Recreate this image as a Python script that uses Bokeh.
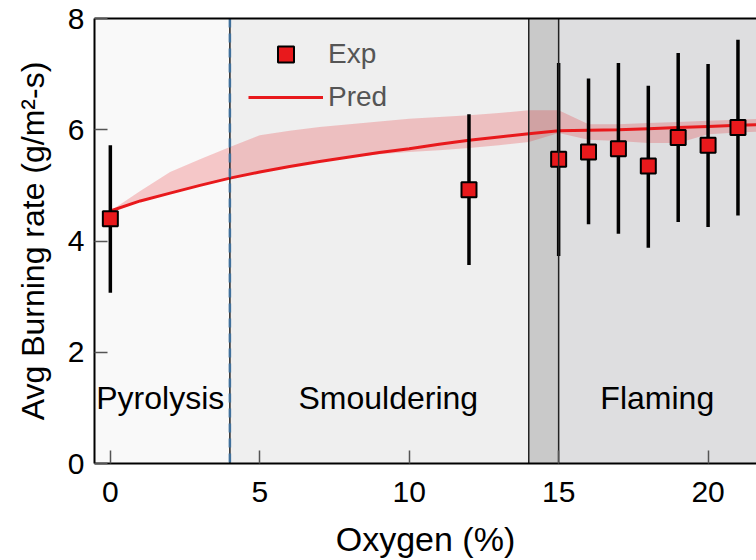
from bokeh.plotting import figure
from bokeh.models import (BoxAnnotation, Span, Legend, LegendItem, LinearAxis,
                          FixedTicker, ColumnDataSource)
from bokeh.core.properties import value
from bokeh.embed import file_html
from bokeh.resources import INLINE

# ---- data ----
exp_x = [0, 12, 15, 16, 17, 18, 19, 20, 21]
exp_y = [4.40, 4.92, 5.47, 5.60, 5.66, 5.35, 5.86, 5.72, 6.04]
exp_lo = [3.07, 3.57, 3.73, 4.30, 4.13, 3.88, 4.34, 4.25, 4.46]
exp_hi = [5.72, 6.28, 7.20, 6.92, 7.20, 6.79, 7.38, 7.18, 7.62]

pred_x = [0, 1, 2, 3, 4, 5, 6, 7, 8, 9, 10, 11, 12, 13, 14, 15, 16, 17, 18, 19, 20, 21, 22]
pred_y = [4.54, 4.72, 4.86, 5.00, 5.13, 5.24, 5.34, 5.43, 5.51, 5.59, 5.66, 5.74, 5.81,
          5.87, 5.93, 5.98, 5.99, 6.00, 6.02, 6.04, 6.06, 6.08, 6.10]
band_hi = [4.54, 4.90, 5.24, 5.47, 5.69, 5.90, 5.98, 6.05, 6.10, 6.15, 6.20, 6.23, 6.26,
           6.30, 6.35, 6.35, 6.10, 6.10, 6.12, 6.14, 6.16, 6.18, 6.20]
band_lo = [4.54, 4.72, 4.86, 5.00, 5.13, 5.24, 5.34, 5.43, 5.50, 5.56, 5.60, 5.63, 5.67,
           5.72, 5.78, 5.94, 5.82, 5.80, 5.76, 5.76, 5.92, 5.95, 5.97]

region_names = ["Pyrolysis", "Smouldering", "Flaming"]
region_label_x = [1.67, 9.3, 18.3]
region_label_y = [1.17, 1.17, 1.17]
boundaries = [4, 14, 15]

x_ticks = [0, 5, 10, 15, 20]
y_ticks = [0, 2, 4, 6, 8]

FONT = "Liberation Sans"
RED = "#e8191c"

p = figure(width=756, height=560, x_range=(-0.53, 21.62), y_range=(0, 8),
           output_backend="svg", toolbar_location=None,
           min_border_left=94, min_border_right=0, min_border_top=18,
           min_border_bottom=97,
           x_axis_label="Oxygen (%)", y_axis_label="Avg Burning rate (g/m²-s)")
p.background_fill_color = "white"
p.border_fill_color = "white"
p.outline_line_color = None
p.grid.visible = False

# region backgrounds
p.add_layout(BoxAnnotation(right=boundaries[0], fill_color="#f9f9f9", fill_alpha=1,
                           line_color=None, level="underlay"))
p.add_layout(BoxAnnotation(left=boundaries[0], right=boundaries[1], fill_color="#efefef",
                           fill_alpha=1, line_color=None, level="underlay"))
p.add_layout(BoxAnnotation(left=boundaries[1], right=boundaries[2], fill_color="#c9c9c9",
                           fill_alpha=1, line_color=None, level="underlay"))
p.add_layout(BoxAnnotation(left=boundaries[2], fill_color="#dedee0", fill_alpha=1,
                           line_color=None, level="underlay"))

for b in boundaries:
    p.add_layout(Span(location=b, dimension="height", line_color="#222222",
                      line_width=1.5, level="glyph"))
p.add_layout(Span(location=boundaries[0], dimension="height", line_color="#3f6f9a",
                  line_width=2.5, line_dash="9 6", level="glyph"))

# band and prediction
p.varea(x=pred_x, y1=band_lo, y2=band_hi, fill_color=RED, fill_alpha=0.22)
ln = p.line(pred_x, pred_y, line_color=RED, line_width=3)

# experimental points
p.segment(x0=exp_x, y0=exp_lo, x1=exp_x, y1=exp_hi, line_color="black", line_width=3.5)
sc = p.scatter(exp_x, exp_y, marker="square", size=15, fill_color=RED,
               line_color="black", line_width=2)

# region labels
src = ColumnDataSource(dict(x=region_label_x, y=region_label_y, t=region_names))
p.text(x="x", y="y", text="t", source=src, text_align="center",
       text_baseline="alphabetic", text_font=value(FONT), text_font_size="32px",
       text_color="black")

# legend
legend = Legend(items=[LegendItem(label="Exp", renderers=[sc]),
                       LegendItem(label="Pred", renderers=[ln])],
                location=(154, 346), glyph_width=75, glyph_height=40,
                label_height=40, spacing=3, label_standoff=5, padding=0, margin=0,
                border_line_alpha=0, background_fill_alpha=0,
                label_text_font=FONT, label_text_font_size="28px",
                label_text_color="#555555")
p.add_layout(legend, "center")

# axes styling
for ax in (p.xaxis[0], p.yaxis[0]):
    ax.axis_line_color = "black"
    ax.axis_line_width = 2
    ax.major_tick_in = 13
    ax.major_tick_out = 0
    ax.minor_tick_in = 0
    ax.minor_tick_out = 0
    ax.major_tick_line_color = "#555555"
    ax.major_tick_line_width = 1.5
    ax.major_label_text_font = FONT
    ax.major_label_text_font_size = "30px"
    ax.major_label_text_color = "black"
    ax.axis_label_text_font = FONT
    ax.axis_label_text_font_style = "normal"
    ax.axis_label_text_color = "black"
p.xaxis[0].axis_label_text_font_size = "34px"
p.yaxis[0].axis_label_text_font_size = "32px"
p.xaxis[0].ticker = FixedTicker(ticks=x_ticks)
p.yaxis[0].ticker = FixedTicker(ticks=y_ticks)
p.xaxis[0].major_label_standoff = 18
p.xaxis[0].axis_label_standoff = 15
p.yaxis[0].major_label_standoff = 10
p.yaxis[0].axis_label_standoff = 14

top = LinearAxis(ticker=FixedTicker(ticks=[]), major_label_text_font_size="0px",
                 major_tick_in=0, major_tick_out=0, minor_tick_in=0, minor_tick_out=0,
                 major_label_standoff=0, axis_line_color="black", axis_line_width=2)
p.add_layout(top, "above")

open("out.html", "w").write(file_html(p, INLINE))
